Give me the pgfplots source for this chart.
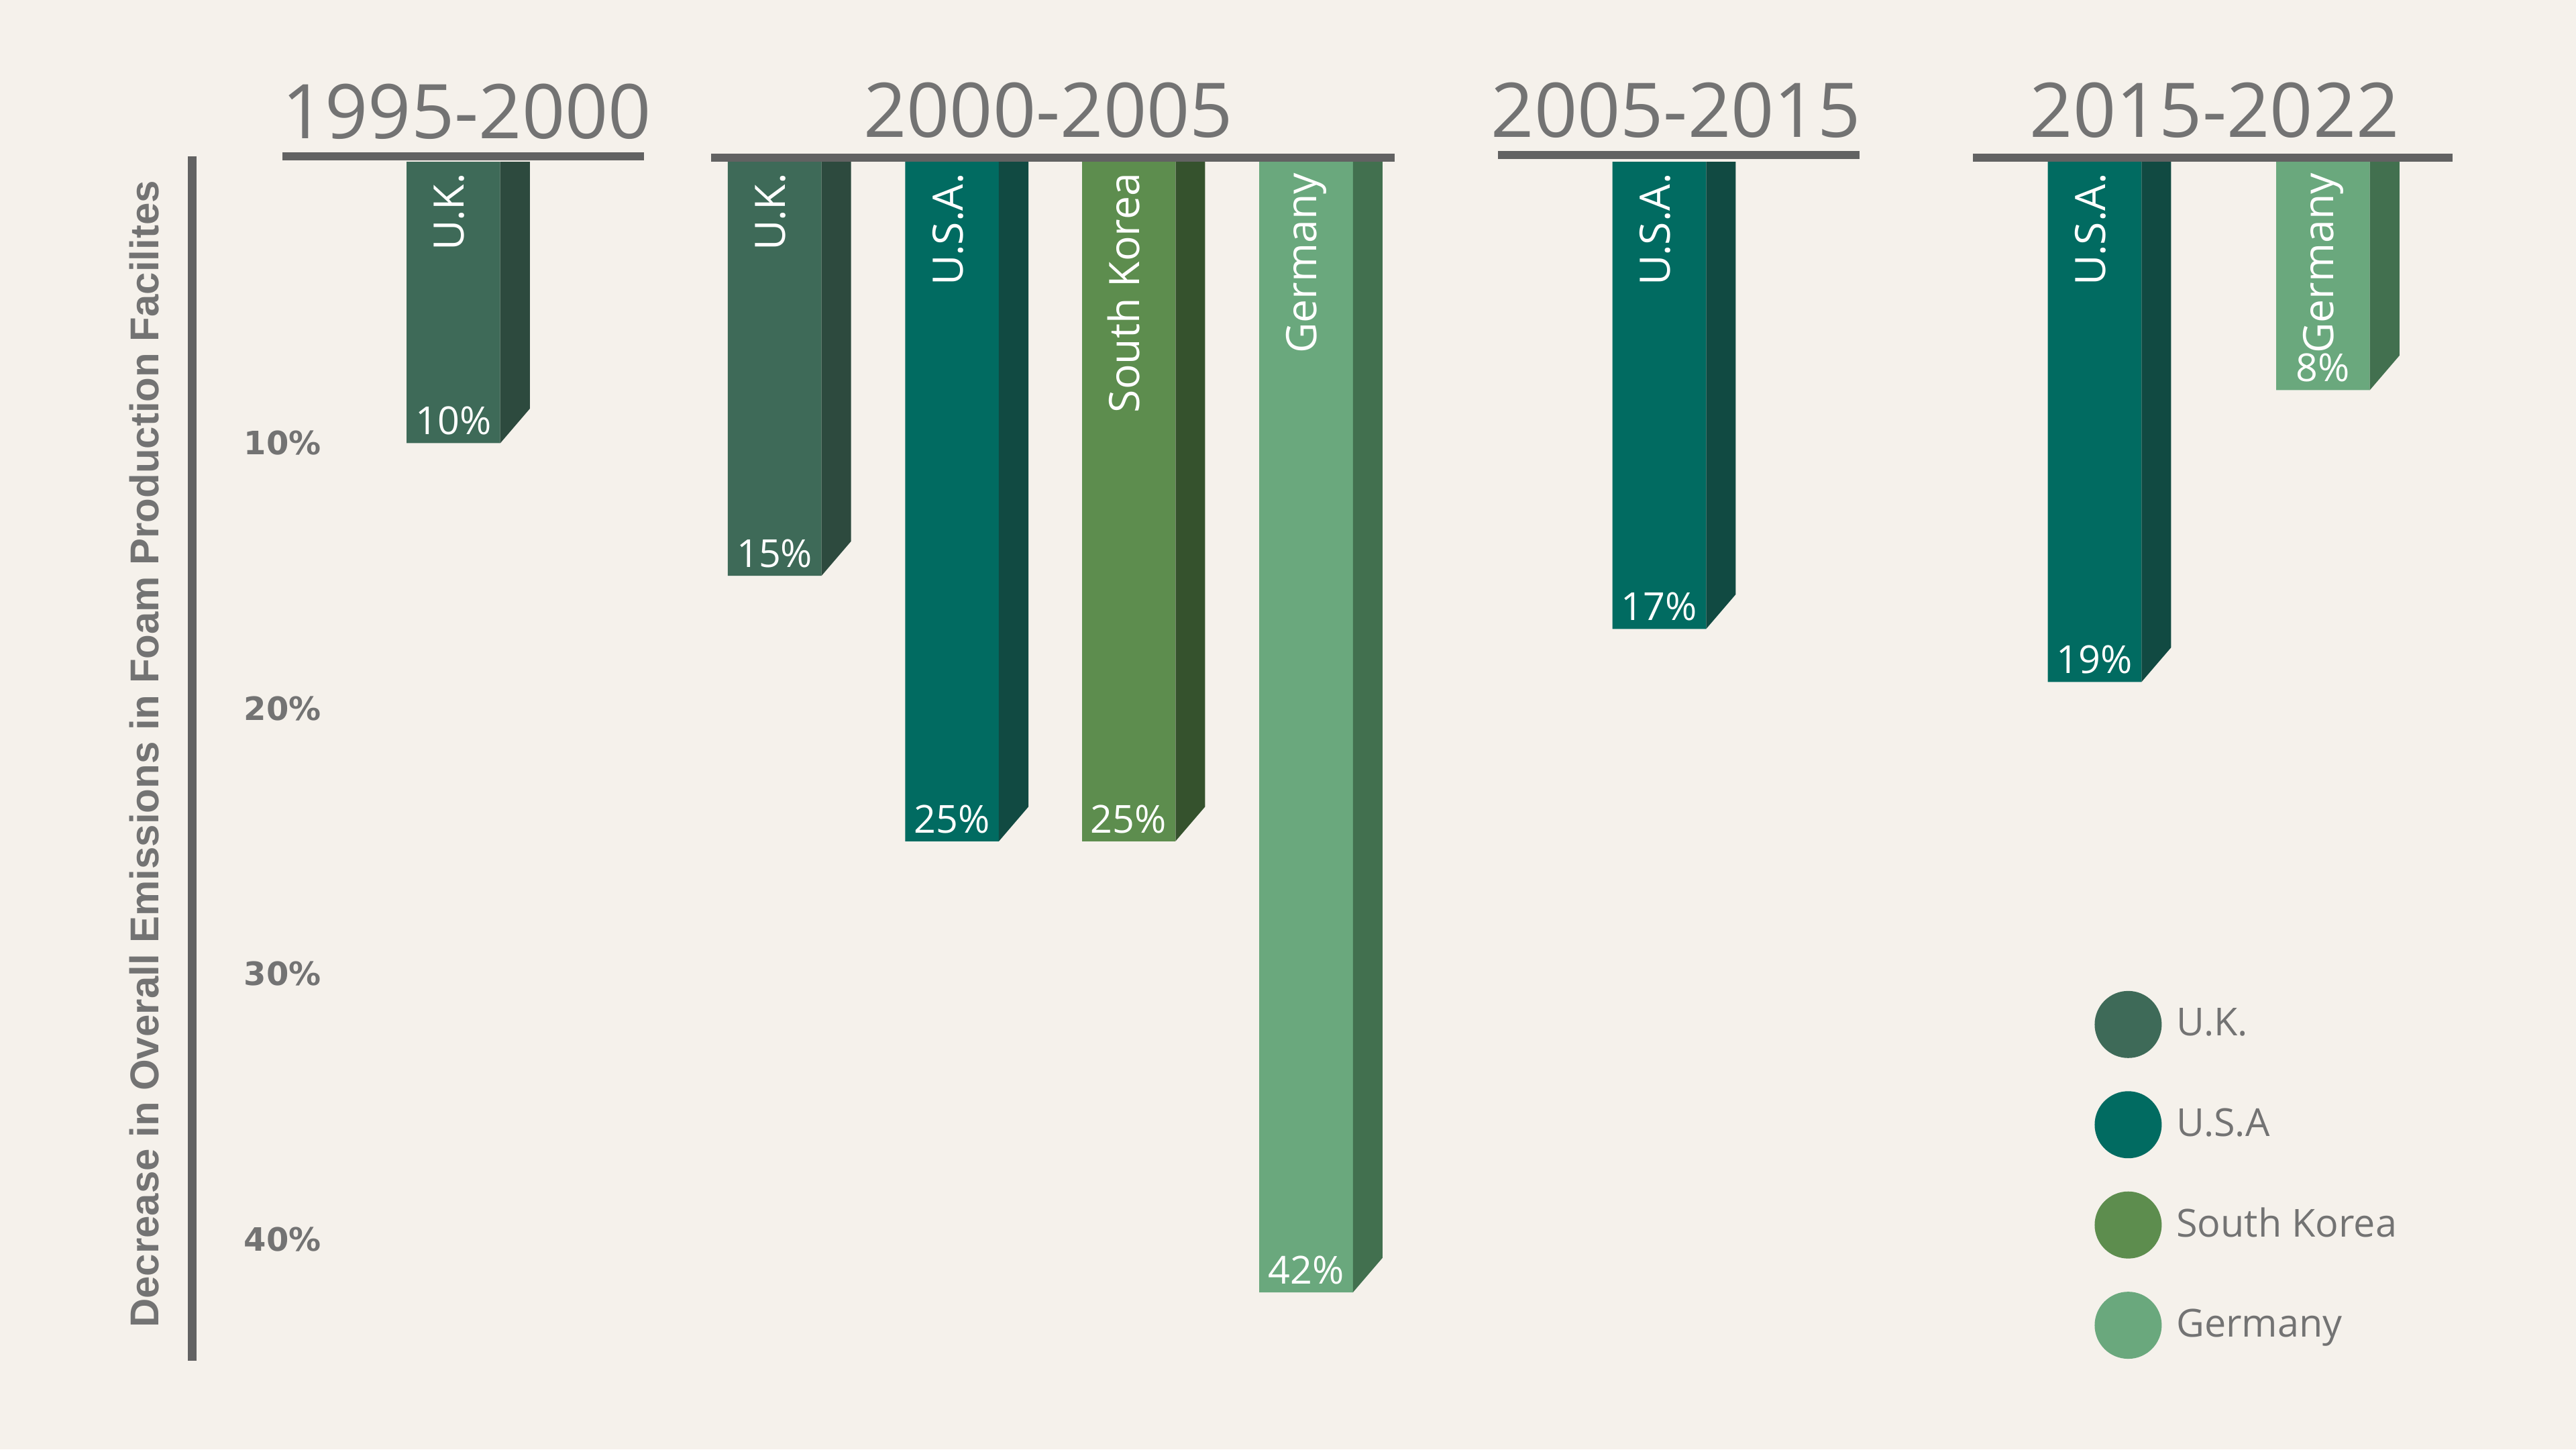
\documentclass[border=0pt]{standalone}
\usepackage{fontspec}
\usepackage{pgfplots}
\pgfplotsset{compat=1.18}
\setmainfont{Open Sans}
\newfontfamily\tickfont{DejaVu Sans}
\newfontfamily\labfont{Liberation Sans}
\definecolor{bg}{HTML}{F5F1EB}
\definecolor{ukF}{HTML}{3E6A58}
\definecolor{ukS}{HTML}{2D4A3E}
\definecolor{usF}{HTML}{016B61}
\definecolor{usS}{HTML}{114A42}
\definecolor{skF}{HTML}{5D8D4E}
\definecolor{skS}{HTML}{35522D}
\definecolor{deF}{HTML}{6AA87D}
\definecolor{deS}{HTML}{42704F}
\definecolor{lgray}{HTML}{626262}
\definecolor{tgray}{HTML}{737373}
% bars hang from the header line, which sits 0.6 units above the 0 of the scale
\pgfplotsset{hang/.style={y filter/.expression={y+0.6}}}
\begin{document}
\begin{tikzpicture}
\fill[bg] (0,0) rectangle (768.32pt,432.18pt);
\begin{axis}[
  at={(0,0)}, anchor=south west,
  width=768.32pt, height=432.18pt, scale only axis,
  xmin=0, xmax=1568, ymin=-6.099, ymax=48.514, y dir=reverse,
  axis line style={draw=none}, tick style={draw=none},
  xtick=\empty, ytick={10.6,20.6,30.6,40.6},
  yticklabels={10\%,20\%,30\%,40\%},
  yticklabel style={anchor=center, xshift=84.3pt, font=\tickfont\bfseries\fontsize{9.6}{10}\selectfont, text=tgray},
  /pgf/number format/assume math mode=true,
  clip=false,
  legend style={at={(axis cs:1275,31.24)}, anchor=north west, draw=none, fill=none,
    row sep=10.3pt, column sep=2.6pt, inner sep=0pt,
    font=\fontsize{11.5}{13}\selectfont, text=tgray},
  legend cell align=left,
  nodes near coords={\pgfmathprintnumber{\pgfplotspointmeta}\%},
  every node near coord/.append style={anchor=base, yshift=2.5pt, text=white, font=\fontsize{11.5}{13}\selectfont},
]
% front faces (values in %)
\addplot[hang, point meta=rawy, ybar, bar width=57, bar shift=0pt, fill=ukF, draw=none, forget plot] coordinates {(276,10) (471.5,15)};
\addplot[hang, point meta=rawy, ybar, bar width=57, bar shift=0pt, fill=usF, draw=none, forget plot] coordinates {(579.5,25) (1010,17) (1275,19)};
\addplot[hang, point meta=rawy, ybar, bar width=57, bar shift=0pt, fill=skF, draw=none, forget plot] coordinates {(687,25)};
\addplot[hang, point meta=rawy, ybar, bar width=57, bar shift=0pt, fill=deF, draw=none, forget plot] coordinates {(795,42) (1414,8)};
% side faces of the 3-D bars
\addplot[hang, fill=ukS, draw=none, forget plot, nodes near coords=] coordinates {(304.5,-0.6) (304.5,10) (322.5,8.7) (322.5,-0.6)} --cycle;
\addplot[hang, fill=ukS, draw=none, forget plot, nodes near coords=] coordinates {(500,-0.6) (500,15) (518,13.7) (518,-0.6)} --cycle;
\addplot[hang, fill=usS, draw=none, forget plot, nodes near coords=] coordinates {(608,-0.6) (608,25) (626,23.7) (626,-0.6)} --cycle;
\addplot[hang, fill=skS, draw=none, forget plot, nodes near coords=] coordinates {(715.5,-0.6) (715.5,25) (733.5,23.7) (733.5,-0.6)} --cycle;
\addplot[hang, fill=deS, draw=none, forget plot, nodes near coords=] coordinates {(823.5,-0.6) (823.5,42) (841.5,40.7) (841.5,-0.6)} --cycle;
\addplot[hang, fill=usS, draw=none, forget plot, nodes near coords=] coordinates {(1038.5,-0.6) (1038.5,17) (1056.5,15.7) (1056.5,-0.6)} --cycle;
\addplot[hang, fill=usS, draw=none, forget plot, nodes near coords=] coordinates {(1303.5,-0.6) (1303.5,19) (1321.5,17.7) (1321.5,-0.6)} --cycle;
\addplot[hang, fill=deS, draw=none, forget plot, nodes near coords=] coordinates {(1442.5,-0.6) (1442.5,8) (1460.5,6.7) (1460.5,-0.6)} --cycle;
% legend
\addlegendimage{only marks, mark=*, mark size=9.8pt, color=ukF}
\addlegendentry{U.K.}
\addlegendimage{only marks, mark=*, mark size=9.8pt, color=usF}
\addlegendentry{U.S.A}
\addlegendimage{only marks, mark=*, mark size=9.8pt, color=skF}
\addlegendentry{South Korea}
\addlegendimage{only marks, mark=*, mark size=9.8pt, color=deF}
\addlegendentry{Germany}
% header lines
\draw[line width=2.45pt, lgray] (axis cs:172,-0.2) -- (axis cs:392,-0.2);
\draw[line width=2.45pt, lgray] (axis cs:433,-0.155) -- (axis cs:849,-0.155);
\draw[line width=2.45pt, lgray] (axis cs:912,-0.25) -- (axis cs:1132,-0.25);
\draw[line width=2.45pt, lgray] (axis cs:1201,-0.155) -- (axis cs:1493,-0.155);
% headers
\begin{scope}[every node/.style={anchor=base, text=tgray, font=\fontsize{22.5}{25}\selectfont}]
\node at (axis cs:284,-0.867) {1995-2000};
\node at (axis cs:638,-0.93) {2000-2005};
\node at (axis cs:1020,-0.93) {2005-2015};
\node at (axis cs:1348,-0.93) {2015-2022};
\end{scope}
% y axis line and label
\draw[line width=2.6pt, lgray] (axis cs:117,-0.217) -- (axis cs:117,45.17);
\node[rotate=90, text=tgray, font=\labfont\bfseries\fontsize{12}{14}\selectfont] at (axis cs:88,22.32) {Decrease in Overall Emissions in Foam Production Facilites};
% bar labels
\begin{scope}[every node/.style={rotate=90, anchor=mid east, inner sep=0pt, text=white, font=\fontsize{12.5}{14}\selectfont}]
\node at (axis cs:277,0.4) {U.K.};
\node at (axis cs:472.5,0.4) {U.K.};
\node at (axis cs:580.5,0.4) {U.S.A.};
\node at (axis cs:688,0.4) {South\ Korea};
\node at (axis cs:796,0.4) {Germany};
\node at (axis cs:1011,0.4) {U.S.A.};
\node at (axis cs:1276,0.4) {U.S.A.};
\node at (axis cs:1415,0.4) {Germany};
\end{scope}
\end{axis}
\pgfresetboundingbox
\useasboundingbox (0,0) rectangle (768.32pt,432.18pt);
\end{tikzpicture}
\end{document}
